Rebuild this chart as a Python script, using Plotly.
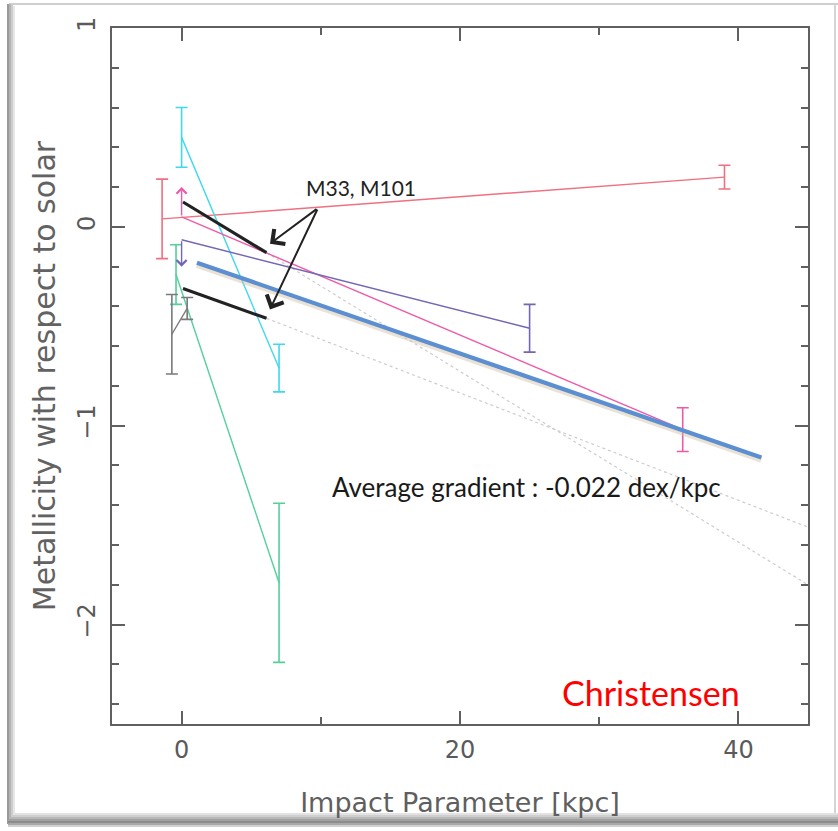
import plotly.graph_objects as go

# ---------------- data ----------------
red_x = [-1.4, 39.0]
red_y = [0.04, 0.25]
red_err = [0.20, 0.06]

cyan_x = [0.0, 7.0]
cyan_y = [0.45, -0.71]
cyan_err = [0.15, 0.12]

pink_x = [0.0, 36.0]
pink_y = [0.05, -1.02]
pink_err_x = [36.0]
pink_err_y = [-1.02]
pink_err = [0.11]
pink_limit = [0.0, 0.05, 0.20]   # x, from y, to y (lower limit arrow)

purple_x = [0.0, 25.0]
purple_y = [-0.065, -0.51]
purple_err_x = [25.0]
purple_err_y = [-0.51]
purple_err = [0.12]
purple_limit = [0.0, -0.065, -0.20]  # upper limit arrow

green_x = [-0.4, 7.0]
green_y = [-0.24, -1.79]
green_err = [0.15, 0.40]

gray_x = [-0.7, 0.4]
gray_y = [-0.54, -0.41]
gray_err = [0.20, 0.055]

m33_x = [0.1, 6.1]
m33_y = [0.125, -0.13]
m101_x = [0.1, 6.1]
m101_y = [-0.31, -0.46]

dot1_x = [6.1, 45.0]
dot1_y = [-0.13, -1.80]
dot2_x = [6.1, 45.0]
dot2_y = [-0.46, -1.51]

avg_x = [1.1, 41.65]
avg_y = [-0.18, -1.16]

label_xy = [12.9, 0.20]
arrow_tail = [9.8, 0.095]
arrow_heads_x = [6.35, 6.35]
arrow_heads_y = [-0.085, -0.415]

x_range = [-5, 45]
y_range = [-2.5, 1]

# ---------------- figure ----------------
W, H = 838, 831
L, R, T, B = 112, 808, 28, 724


def px(xp):
    return (xp - L) / (R - L)


def py(yp):
    return (B - yp) / (B - T)


fig = go.Figure()


def series(x, y, color, err=None, ex=None, ey=None, width=1.4):
    fig.add_trace(go.Scatter(x=x, y=y, mode="lines",
                             line=dict(color=color, width=width),
                             showlegend=False, hoverinfo="skip"))
    if err is not None:
        fig.add_trace(go.Scatter(
            x=ex if ex is not None else x,
            y=ey if ey is not None else y,
            mode="markers", marker=dict(size=1, color=color),
            error_y=dict(type="data", array=err, color=color,
                         thickness=1.6, width=6),
            showlegend=False, hoverinfo="skip"))


# dotted extrapolations
for dx, dy in ((dot1_x, dot1_y), (dot2_x, dot2_y)):
    fig.add_trace(go.Scatter(x=dx, y=dy, mode="lines",
                             line=dict(color="#cdcdcd", width=1.2, dash="dot"),
                             showlegend=False, hoverinfo="skip"))

series(red_x, red_y, "#f07080", red_err)
series(cyan_x, cyan_y, "#3fd8ec", cyan_err)
series(pink_x, pink_y, "#ec5aa8", pink_err, pink_err_x, pink_err_y)
series(purple_x, purple_y, "#7466b4", purple_err, purple_err_x, purple_err_y)
series(green_x, green_y, "#55cf9c", green_err)
series(gray_x, gray_y, "#7a7a7a", gray_err)

# M33 / M101 gradients
for mx, my in ((m33_x, m33_y), (m101_x, m101_y)):
    fig.add_trace(go.Scatter(x=mx, y=my, mode="lines",
                             line=dict(color="#222222", width=3.2),
                             showlegend=False, hoverinfo="skip"))

# average gradient line with soft shadow
fig.add_trace(go.Scatter(x=avg_x, y=[v - 0.01 for v in avg_y], mode="lines",
                         line=dict(color="rgba(210,190,165,0.45)", width=6.5),
                         showlegend=False, hoverinfo="skip"))
fig.add_trace(go.Scatter(x=avg_x, y=avg_y, mode="lines",
                         line=dict(color="#5b8fd2", width=4.2),
                         showlegend=False, hoverinfo="skip"))

annotations = []
# limit arrows
for lim, col in ((pink_limit, "#ec5aa8"), (purple_limit, "#7466b4")):
    annotations.append(dict(x=lim[0], y=lim[2], ax=lim[0], ay=lim[1],
                            xref="x", yref="y", axref="x", ayref="y", text="",
                            showarrow=True, arrowhead=4, arrowsize=1.4, arrowwidth=1.4,
                            arrowcolor=col))
# M33, M101 label and arrows
annotations.append(dict(x=label_xy[0], y=label_xy[1], xref="x", yref="y",
                        xanchor="center", yanchor="middle",
                        text="M33, M101", showarrow=False,
                        font=dict(family="Lato", size=21, color="#222222")))
for hx, hy in zip(arrow_heads_x, arrow_heads_y):
    annotations.append(dict(x=hx, y=hy, ax=arrow_tail[0], ay=arrow_tail[1],
                            xref="x", yref="y", axref="x", ayref="y", text="",
                            showarrow=True, arrowhead=4, arrowsize=1.8, arrowwidth=2,
                            arrowcolor="#222222"))
annotations.append(dict(x=px(526), y=py(487), xref="paper", yref="paper",
                        xanchor="center", yanchor="middle",
                        text="Average gradient : -0.022 dex/kpc", showarrow=False,
                        font=dict(family="Lato", size=26, color="#1a1a1a")))
annotations.append(dict(x=px(651), y=py(692), xref="paper", yref="paper",
                        xanchor="center", yanchor="middle",
                        text="Christensen", showarrow=False,
                        font=dict(family="Lato", size=34, color="#ff0000")))

# picture frame
shapes = []


def hline(y, x0, x1, color, w):
    shapes.append(dict(type="line", xref="paper", yref="paper",
                       x0=px(x0), x1=px(x1), y0=py(y), y1=py(y),
                       line=dict(color=color, width=w), layer="above"))


def vline(x, y0, y1, color, w):
    shapes.append(dict(type="line", xref="paper", yref="paper",
                       x0=px(x), x1=px(x), y0=py(y0), y1=py(y1),
                       line=dict(color=color, width=w), layer="above"))


hline(4, 9, 838, "#cfcfcf", 2)
vline(835, 4, 818, "#d4d4d4", 2)
vline(8, 4, 824, "#9a9a9a", 2)
vline(10, 4, 822, "#b4b4b4", 2)
vline(12, 5, 820, "#cdcdcd", 2)
vline(14, 6, 818, "#e6e6e6", 2)
hline(814, 14, 838, "#e2e2e2", 2)
hline(816, 12, 838, "#cfcfcf", 2)
hline(818, 10, 838, "#b8b8b8", 2)
hline(820, 8, 838, "#a0a0a0", 2)
hline(822, 8, 838, "#8c8c8c", 2)
hline(824, 8, 838, "#a8a8a8", 2)
hline(826, 8, 838, "#d0d0d0", 2)

tick_font = dict(family="DejaVu Sans", size=24, color="#5a5a5a")

fig.update_layout(
    width=W, height=H,
    margin=dict(l=L, r=W - R, t=T, b=H - B, autoexpand=False),
    paper_bgcolor="white", plot_bgcolor="white",
    showlegend=False,
    annotations=annotations,
    shapes=shapes,
    xaxis=dict(range=x_range, tick0=0, dtick=20, ticks="inside", ticklen=13,
               tickwidth=2, tickcolor="#606060", showline=True, linewidth=2,
               linecolor="#606060", mirror="ticks", showgrid=False, zeroline=False,
               tickfont=tick_font, ticklabelstandoff=3,
               minor=dict(ticks="inside", dtick=10, ticklen=7, tickwidth=2,
                          tickcolor="#606060", showgrid=False),
               title=dict(text="Impact Parameter [kpc]",
                          font=dict(family="DejaVu Sans", size=27, color="#5f5f5f"),
                          standoff=30)),
    yaxis=dict(range=y_range, tick0=0, dtick=1, ticks="inside", ticklen=13,
               tickwidth=2, tickcolor="#606060", showline=True, linewidth=2,
               linecolor="#606060", mirror="ticks", showgrid=False, zeroline=False,
               tickfont=tick_font, tickangle=-90, ticklabelstandoff=5,
               minor=dict(ticks="inside", dtick=0.2, ticklen=7, tickwidth=2,
                          tickcolor="#606060", showgrid=False),
               title=dict(text="Metallicity with respect to solar",
                          font=dict(family="DejaVu Sans", size=30, color="#626262"),
                          standoff=9)),
)

fig.write_html("out.html")
